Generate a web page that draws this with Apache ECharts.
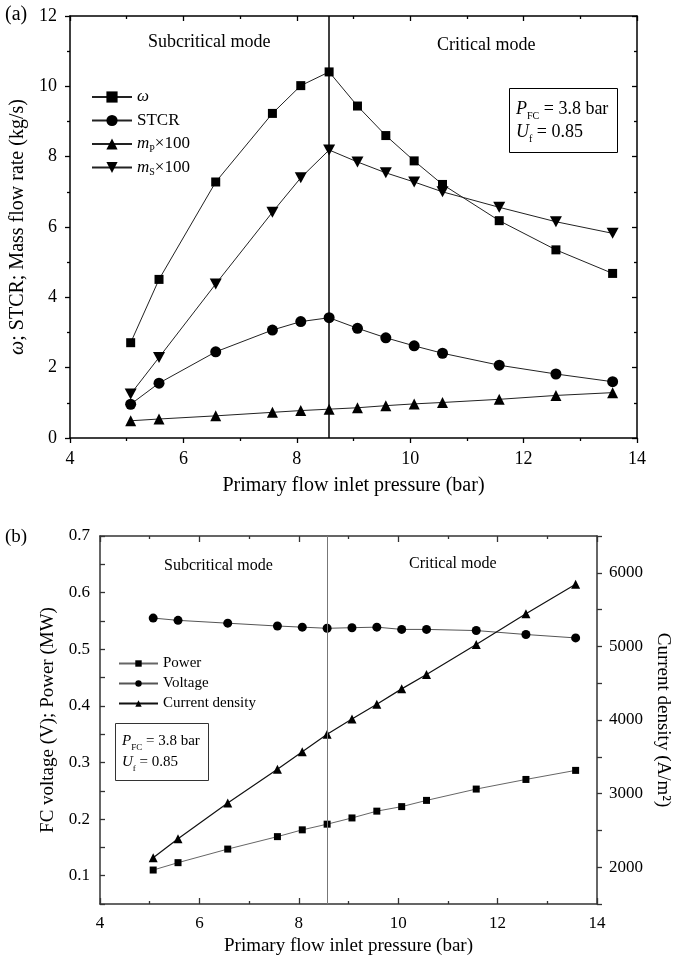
<!DOCTYPE html>
<html>
<head>
<meta charset="utf-8">
<script src="https://cdn.jsdelivr.net/npm/echarts@6/dist/echarts.min.js"></script>
<style>html,body{margin:0;padding:0;background:#fff}#c{width:676px;height:959px}</style>
</head>
<body>
<div id="c"></div>
<script>
// ---- data ----
const pressure = [5.07, 5.57, 6.57, 7.57, 8.07, 8.57, 9.07, 9.57, 10.07, 10.57, 11.57, 12.57, 13.57];
const omega = [2.71, 4.51, 7.28, 9.23, 10.02, 10.41, 9.44, 8.60, 7.88, 7.21, 6.18, 5.35, 4.68];
const stcr = [0.96, 1.56, 2.45, 3.07, 3.31, 3.42, 3.12, 2.85, 2.62, 2.41, 2.07, 1.82, 1.60];
const mP100 = [0.49, 0.54, 0.63, 0.73, 0.78, 0.82, 0.86, 0.92, 0.97, 1.01, 1.10, 1.21, 1.29];
const mS100 = [1.25, 2.29, 4.38, 6.42, 7.40, 8.19, 7.85, 7.54, 7.28, 7.00, 6.56, 6.15, 5.82];
const power = [0.110, 0.123, 0.147, 0.169, 0.181, 0.191, 0.202, 0.214, 0.222, 0.233, 0.253, 0.270, 0.286];
const voltage = [0.555, 0.551, 0.546, 0.541, 0.539, 0.537, 0.538, 0.539, 0.535, 0.535, 0.533, 0.526, 0.520];
const currentDensity = [2128, 2387, 2873, 3332, 3568, 3805, 4014, 4214, 4423, 4618, 5027, 5445, 5845];
const modeBoundary = [8.57];
const xTicks = [4, 6, 8, 10, 12, 14];

const F = 'Liberation Serif, Times New Roman, serif';
const pairs = ys => pressure.map((x, i) => [x, ys[i]]);
const invTri = 'path://M0,0L20,0L10,18Z';

const chart = echarts.init(document.getElementById('c'), null, {renderer: 'canvas'});

function xAx(grid, pos, color, tickInside, showLabel, opts) {
  return Object.assign({
    gridIndex: grid, type: 'value', position: pos,
    min: xTicks[0], max: xTicks[xTicks.length - 1], interval: xTicks[1] - xTicks[0],
    axisLine: {onZero: false, lineStyle: {color: color, width: 1.5}},
    axisTick: {show: true, inside: tickInside, length: grid === 0 ? 5 : 6, lineStyle: {color: color, width: 1.3}},
    minorTick: {show: true, splitNumber: 2, length: 3, lineStyle: {color: color, width: 1.3}},
    splitLine: {show: false},
    axisLabel: {show: showLabel, fontFamily: F, color: '#000'}
  }, opts || {});
}

const sub = (fs) => ({fontFamily: F, fontSize: fs, color: '#000', lineHeight: fs, verticalAlign: 'bottom'});

const option = {
  animation: false,
  backgroundColor: '#fff',
  grid: [
    {left: 70, top: 16, right: 39, bottom: 521, outerBoundsMode: 'none'},
    {left: 100, top: 536, right: 79, bottom: 55, outerBoundsMode: 'none'}
  ],
  xAxis: [
    xAx(0, 'bottom', '#000', false, true, {
      axisLabel: {fontFamily: F, fontSize: 18, color: '#000', margin: 12},
      name: 'Primary flow inlet pressure (bar)', nameLocation: 'middle', nameGap: 38,
      nameTextStyle: {fontFamily: F, fontSize: 20, color: '#000'}
    }),
    xAx(0, 'top', '#000', true, false),
    xAx(1, 'bottom', '#333', true, true, {
      axisLabel: {fontFamily: F, fontSize: 17, color: '#000', margin: 11},
      name: 'Primary flow inlet pressure (bar)', nameLocation: 'middle', nameGap: 33,
      nameTextStyle: {fontFamily: F, fontSize: 19, color: '#000'}
    }),
    xAx(1, 'top', '#333', true, false)
  ],
  yAxis: [
    {
      gridIndex: 0, type: 'value', position: 'left', min: 0, max: 12, interval: 2,
      axisLine: {show: true, onZero: false, lineStyle: {color: '#000', width: 1.5}},
      axisTick: {show: true, inside: false, length: 5, lineStyle: {color: '#000', width: 1.3}},
      minorTick: {show: true, splitNumber: 2, length: 3, lineStyle: {color: '#000', width: 1.3}},
      splitLine: {show: false},
      axisLabel: {fontFamily: F, fontSize: 18, color: '#000', margin: 13},
      name: '{i|ω}; STCR; Mass flow rate (kg/s)', nameLocation: 'middle', nameGap: 40, nameRotate: 90,
      nameTextStyle: {fontFamily: F, fontSize: 20, color: '#000',
        rich: {i: {fontFamily: F, fontSize: 20, fontStyle: 'italic', color: '#000'}}}
    },
    {
      gridIndex: 0, type: 'value', position: 'right', min: 0, max: 12, interval: 2,
      axisLine: {show: true, onZero: false, lineStyle: {color: '#000', width: 1.5}},
      axisTick: {show: true, inside: true, length: 5, lineStyle: {color: '#000', width: 1.3}},
      minorTick: {show: true, splitNumber: 2, length: 3, lineStyle: {color: '#000', width: 1.3}},
      splitLine: {show: false}, axisLabel: {show: false}
    },
    {
      gridIndex: 1, type: 'value', position: 'left', min: 0.05, max: 0.7, interval: 0.05,
      axisLine: {show: true, onZero: false, lineStyle: {color: '#333', width: 1.5}},
      axisTick: {show: true, inside: true, length: 5, lineStyle: {color: '#333', width: 1.3}},
      splitLine: {show: false},
      axisLabel: {fontFamily: F, fontSize: 17, color: '#000', margin: 10,
        formatter: v => (Math.abs(v * 10 - Math.round(v * 10)) < 1e-6 ? v.toFixed(1) : '')},
      name: 'FC voltage (V); Power (MW)', nameLocation: 'middle', nameGap: 42, nameRotate: 90,
      nameTextStyle: {fontFamily: F, fontSize: 19, color: '#000'}
    },
    {
      gridIndex: 1, type: 'value', position: 'right', min: 1500, max: 6500, interval: 500,
      axisLine: {show: true, onZero: false, lineStyle: {color: '#333', width: 1.5}},
      axisTick: {show: true, inside: false, length: 5, lineStyle: {color: '#333', width: 1.3}},
      splitLine: {show: false},
      axisLabel: {fontFamily: F, fontSize: 17, color: '#000', margin: 12,
        formatter: v => (v % 1000 === 0 ? String(v) : '')},
      name: 'Current density (A/m²)', nameLocation: 'middle', nameGap: 56, nameRotate: -90,
      nameTextStyle: {fontFamily: F, fontSize: 19, color: '#000'}
    }
  ],
  legend: [
    {
      orient: 'vertical', left: 86, top: 82, itemWidth: 40, itemHeight: 14, itemGap: 3.5,
      data: ['ω', 'STCR', 'mP×100', 'mS×100'],
      textStyle: {fontFamily: F, fontSize: 17, color: '#000', lineHeight: 20,
        rich: {i: {fontFamily: F, fontSize: 17, fontStyle: 'italic', color: '#000', lineHeight: 20},
               n: {fontFamily: F, fontSize: 17, color: '#000', lineHeight: 20},
               s: sub(10)}},
      formatter: function (name) {
        if (name === 'ω') return '{i|ω}';
        if (name === 'mP×100') return '{i|m}{s|P}{n|×100}';
        if (name === 'mS×100') return '{i|m}{s|S}{n|×100}';
        return name;
      }
    },
    {
      orient: 'vertical', left: 113, top: 651, itemWidth: 39, itemHeight: 8, itemGap: 5,
      data: ['Power', 'Voltage', 'Current density'],
      textStyle: {fontFamily: F, fontSize: 15, color: '#000'}
    }
  ],
  title: [
    {text: '(a)', left: 5, top: 5, padding: 0, textStyle: {fontFamily: F, fontSize: 20, fontWeight: 'normal', color: '#000'}},
    {text: '(b)', left: 5, top: 528, padding: 0, textStyle: {fontFamily: F, fontSize: 19, fontWeight: 'normal', color: '#000'}},
    {text: 'Subcritical mode', left: 148, top: 33, padding: 0, textStyle: {fontFamily: F, fontSize: 18, fontWeight: 'normal', color: '#000'}},
    {text: 'Critical mode', left: 437, top: 36, padding: 0, textStyle: {fontFamily: F, fontSize: 18, fontWeight: 'normal', color: '#000'}},
    {text: 'Subcritical mode', left: 164, top: 558, padding: 0, textStyle: {fontFamily: F, fontSize: 16, fontWeight: 'normal', color: '#000'}},
    {text: 'Critical mode', left: 409, top: 556, padding: 0, textStyle: {fontFamily: F, fontSize: 16, fontWeight: 'normal', color: '#000'}},
    {
      text: '{i|P}{s|FC}{n| = 3.8 bar}\n{i|U}{s|f}{n| = 0.85}', left: 509, top: 88,
      padding: [10, 9, 9, 7], borderColor: '#000', borderWidth: 1,
      textStyle: {fontFamily: F, fontSize: 18, fontWeight: 'normal', color: '#000', lineHeight: 23,
        rich: {i: {fontFamily: F, fontSize: 18, fontStyle: 'italic', color: '#000', lineHeight: 23},
               n: {fontFamily: F, fontSize: 18, color: '#000', lineHeight: 23},
               s: sub(10)}}
    },
    {
      text: '{i|P}{s|FC}{n| = 3.8 bar}\n{i|U}{s|f}{n| = 0.85}', left: 115, top: 723,
      padding: [8, 9, 8, 7], borderColor: '#333', borderWidth: 1,
      textStyle: {fontFamily: F, fontSize: 15, fontWeight: 'normal', color: '#000', lineHeight: 21,
        rich: {i: {fontFamily: F, fontSize: 15, fontStyle: 'italic', color: '#000', lineHeight: 21},
               n: {fontFamily: F, fontSize: 15, color: '#000', lineHeight: 21},
               s: sub(9)}}
    }
  ],
  series: [
    {
      name: 'ω', type: 'line', xAxisIndex: 0, yAxisIndex: 0, data: pairs(omega),
      symbol: 'rect', symbolSize: 9, itemStyle: {color: '#000'}, lineStyle: {color: '#222', width: 1},
      markLine: {silent: true, symbol: ['none', 'none'], label: {show: false},
        lineStyle: {color: '#000', width: 1.5, type: 'solid'}, data: modeBoundary.map(v => ({xAxis: v}))}
    },
    {name: 'STCR', type: 'line', xAxisIndex: 0, yAxisIndex: 0, data: pairs(stcr),
      symbol: 'circle', symbolSize: 11, itemStyle: {color: '#000'}, lineStyle: {color: '#222', width: 1}},
    {name: 'mP×100', type: 'line', xAxisIndex: 0, yAxisIndex: 0, data: pairs(mP100),
      symbol: 'triangle', symbolSize: 11, itemStyle: {color: '#000'}, lineStyle: {color: '#222', width: 1}},
    {name: 'mS×100', type: 'line', xAxisIndex: 0, yAxisIndex: 0, data: pairs(mS100),
      symbol: invTri, symbolSize: [12, 11], itemStyle: {color: '#000'}, lineStyle: {color: '#222', width: 1}},
    {
      name: 'Power', type: 'line', xAxisIndex: 2, yAxisIndex: 2, data: pairs(power),
      symbol: 'rect', symbolSize: 7, itemStyle: {color: '#000'}, lineStyle: {color: '#666', width: 1},
      markLine: {silent: true, symbol: ['none', 'none'], label: {show: false},
        lineStyle: {color: '#777', width: 1, type: 'solid'}, data: modeBoundary.map(v => ({xAxis: v}))}
    },
    {name: 'Voltage', type: 'line', xAxisIndex: 2, yAxisIndex: 2, data: pairs(voltage),
      symbol: 'circle', symbolSize: 9, itemStyle: {color: '#000'}, lineStyle: {color: '#555', width: 1}},
    {name: 'Current density', type: 'line', xAxisIndex: 2, yAxisIndex: 3, data: pairs(currentDensity),
      symbol: 'triangle', symbolSize: 9, itemStyle: {color: '#000'}, lineStyle: {color: '#111', width: 1.2}}
  ]
};
chart.setOption(option);
</script>
</body>
</html>
